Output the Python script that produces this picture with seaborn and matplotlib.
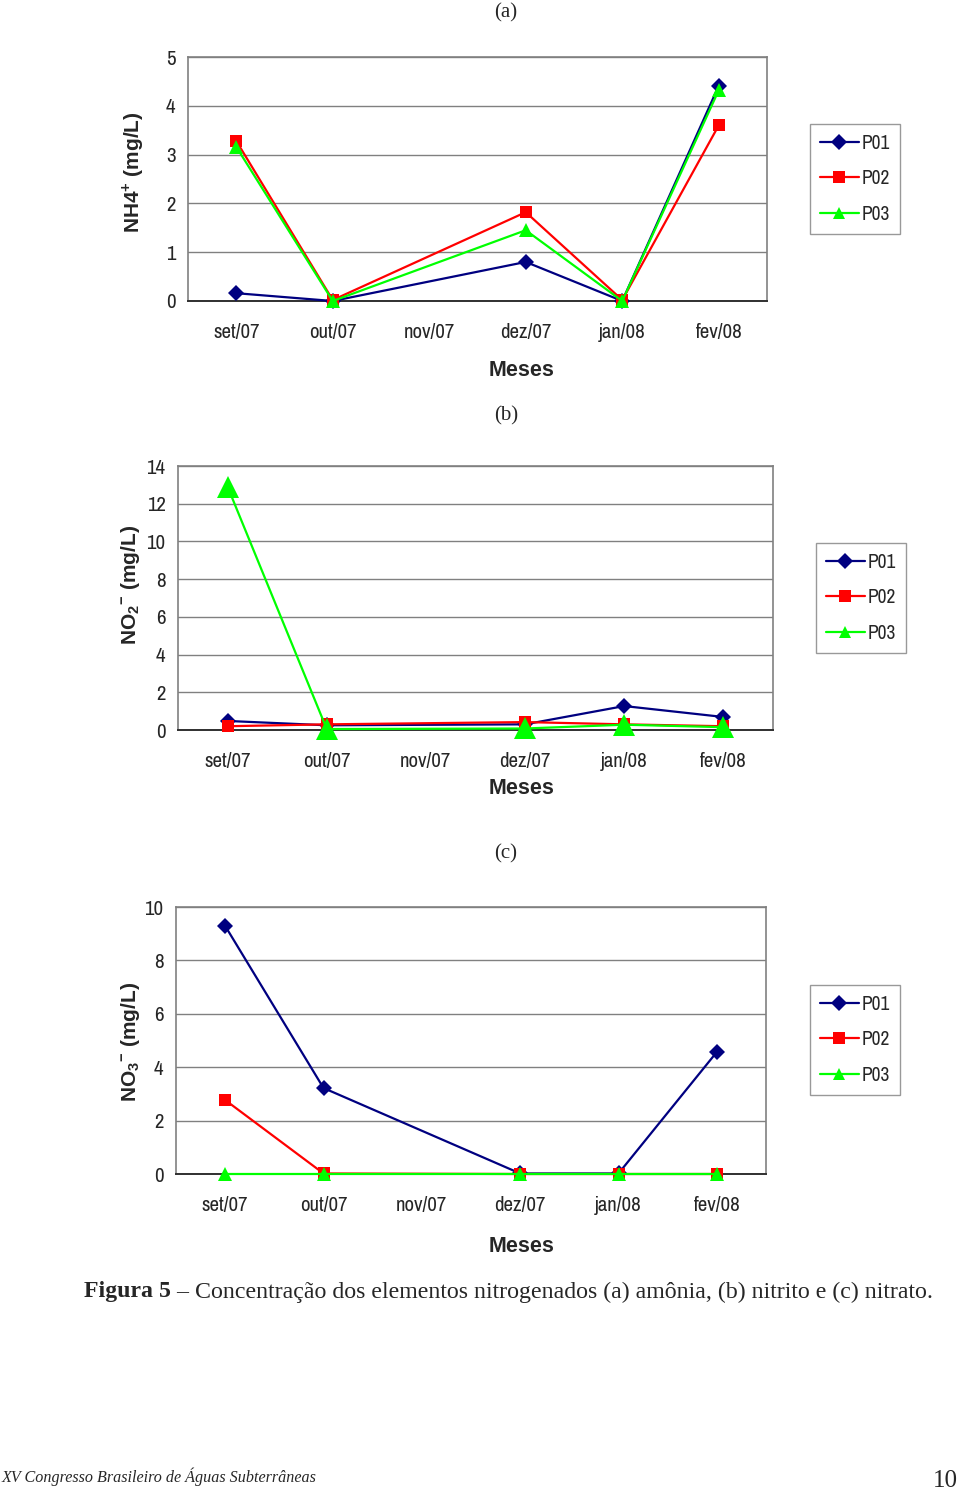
import numpy as np
import pandas as pd
import seaborn as sns
from matplotlib import pyplot as plt
from matplotlib import font_manager

sns.set_theme(style="white")

names = {f.name for f in font_manager.fontManager.ttflist}
narrow = "Liberation Sans"
for cand in ["Liberation Sans Narrow", "Arimo Narrow", "Archivo Narrow", "PT Sans Narrow", "Roboto Condensed"]:
    if cand in names:
        narrow = cand
        break
plt.rcParams["font.family"] = ["Liberation Sans", "DejaVu Sans"]
plt.rcParams["mathtext.fontset"] = "custom"
plt.rcParams["mathtext.rm"] = "Liberation Sans:bold"
plt.rcParams["mathtext.bf"] = "Liberation Sans:bold"

# ---- data (None = month without sample) ----
meses = ["set/07", "out/07", "nov/07", "dez/07", "jan/08", "fev/08"]
pontos = ["P01", "P02", "P03"]

nh4_p01 = [0.16, 0.0, None, 0.80, 0.0, 4.41]
nh4_p02 = [3.28, 0.02, None, 1.82, 0.02, 3.60]
nh4_p03 = [3.16, 0.0, None, 1.45, 0.0, 4.32]

no2_p01 = [0.48, 0.25, None, 0.30, 1.27, 0.69]
no2_p02 = [0.20, 0.30, None, 0.42, 0.30, 0.20]
no2_p03 = [12.9, 0.05, None, 0.08, 0.28, 0.15]

no3_p01 = [9.29, 3.22, None, 0.02, 0.02, 4.57]
no3_p02 = [2.77, 0.02, None, 0.0, 0.0, 0.0]
no3_p03 = [0.0, 0.0, None, 0.0, 0.0, 0.0]

cores = {"P01": "#000080", "P02": "#FF0000", "P03": "#00FF00"}
marcas = {"P01": "D", "P02": "s", "P03": "^"}

W, H = 960, 1490
fig = plt.figure(figsize=(W / 100, H / 100), dpi=100)


def fx(px):
    return px / W


def fy(py):
    return 1 - py / H


def painel(box, series, ylim, ystep, ylabel, ylab_pos, meses_y, leg_pos, msizes, tag, tag_y):
    left, top, right, bottom = box
    ax = fig.add_axes([fx(left), fy(bottom), fx(right - left), (bottom - top) / H])
    for p, vals in zip(pontos, series):
        df = pd.DataFrame({"x": range(len(meses)), "y": vals}).dropna()
        sns.lineplot(data=df, x="x", y="y", ax=ax, color=cores[p], marker=marcas[p],
                     markersize=msizes[p], markeredgewidth=0, linewidth=1.6,
                     label=p, estimator=None, clip_on=False, zorder=3)
    ax.set_xlim(-0.5, len(meses) - 0.5)
    ax.set_ylim(*ylim)
    ax.set_yticks(np.arange(ylim[0], ylim[1] + 0.01, ystep))
    ax.set_xticks(range(len(meses)))
    ax.set_xticklabels(meses)
    ax.set_xticks(np.arange(-0.5, len(meses), 1), minor=True)
    ax.tick_params(axis="x", which="major", length=0, pad=16, labelsize=15)
    ax.tick_params(axis="x", which="minor", length=6, direction="out", color="#808080", width=1)
    ax.tick_params(axis="y", length=0, pad=9, labelsize=15)
    for lab in ax.get_xticklabels() + ax.get_yticklabels():
        lab.set_family(narrow)
    ax.grid(axis="y", color="#808080", linewidth=1)
    ax.set_axisbelow(True)
    for s in ["top", "right", "left"]:
        ax.spines[s].set_color("#808080")
        ax.spines[s].set_linewidth(1.2)
    ax.spines["bottom"].set_color("#303030")
    ax.spines["bottom"].set_linewidth(1.4)

    ax.set_xlabel("Meses", fontsize=15.5, fontweight="bold", va="center")
    ax.xaxis.set_label_coords(fx(522), fy(meses_y), transform=fig.transFigure)
    ax.set_ylabel(ylabel, fontsize=15, fontweight="bold", va="center")
    ax.yaxis.set_label_coords(fx(ylab_pos[0]), fy(ylab_pos[1]), transform=fig.transFigure)

    leg = ax.legend(loc="upper left", bbox_to_anchor=(fx(leg_pos[0]), fy(leg_pos[1])),
                    bbox_transform=fig.transFigure, frameon=True, fancybox=False,
                    edgecolor="#808080", handlelength=2.0, handletextpad=0.15,
                    labelspacing=0.85, borderpad=0.5, borderaxespad=0,
                    fontsize=14, markerscale=1.0)
    leg.get_frame().set_linewidth(1.0)
    for t in leg.get_texts():
        t.set_family(narrow)
    for h in leg.legend_handles:
        h.set_markersize(8)

    fig.text(fx(506), fy(tag_y), tag, ha="center", va="center", fontsize=15,
             family="Liberation Serif")
    return ax


painel((188, 57, 767, 301), [nh4_p01, nh4_p02, nh4_p03], (0, 5), 1,
       r"NH4$^{+}$ (mg/L)", (133, 172), 370, (810, 124),
       {"P01": 8, "P02": 9, "P03": 10}, "(a)", 13)

painel((178, 466, 773, 730), [no2_p01, no2_p02, no2_p03], (0, 14), 2,
       r"NO$_{2}$$^{-}$ (mg/L)", (130, 585), 788, (816, 543),
       {"P01": 8, "P02": 9, "P03": 16}, "(b)", 416)

painel((176, 907, 766, 1174), [no3_p01, no3_p02, no3_p03], (0, 10), 2,
       r"NO$_{3}$$^{-}$ (mg/L)", (130, 1042), 1246, (810, 985),
       {"P01": 8, "P02": 9, "P03": 10}, "(c)", 854)

# caption
fig.canvas.draw()
t1 = fig.text(fx(84), fy(1292), "Figura 5", fontsize=17.2, fontweight="bold",
              family="Liberation Serif", va="center")
fig.canvas.draw()
bb = t1.get_window_extent()
fig.text(bb.x1 / W, fy(1292), " \u2013 Concentração dos elementos nitrogenados (a) amônia, (b) nitrito e (c) nitrato.",
         fontsize=17.2, family="Liberation Serif", va="center")

fig.text(fx(2), fy(1477), "XV Congresso Brasileiro de Águas Subterrâneas", fontsize=11.6,
         style="italic", family="Liberation Serif", va="center")
fig.text(fx(958), fy(1481), "10", fontsize=18, family="Liberation Serif", va="center", ha="right")

fig.savefig("out.png", dpi=100, facecolor="white")
